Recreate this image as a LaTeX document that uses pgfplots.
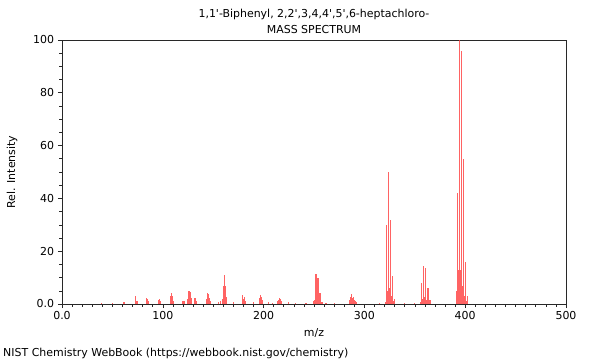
\documentclass[border=0pt]{standalone}
\usepackage{pgfplots}
\pgfplotsset{compat=1.18}
\usepackage{fontspec}
\setmainfont{DejaVu Sans}[Ligatures=TeXOff]
\definecolor{pk}{RGB}{255,60,60}
\definecolor{ax}{RGB}{40,40,40}
\begin{document}
\fontsize{11}{13}\selectfont
\begin{tikzpicture}
\begin{axis}[
  at={(0,0)}, anchor=south west,
  scale only axis, width=504bp, height=264bp,
  xmin=0, xmax=500, ymin=0, ymax=100,
  axis line style={ax, line width=0.8pt},
  tick style={ax, line width=0.6pt},
  tick pos=left, tick align=outside,
  major tick length=4bp, minor tick length=2.5bp,
  xtick={0,100,200,300,400,500},
  xticklabels={0.0,100,200,300,400,500},
  minor x tick num=9,
  ytick={0,20,40,60,80,100},
  yticklabels={0.0,20,40,60,80,100},
  minor y tick num=3,
  ticklabel style={font=\fontsize{11}{13}\selectfont},
  /pgf/number format/assume math mode=true,
  clip=false,
]
\addplot[ycomb, draw=pk, opacity=0.8, line width=1.2bp, mark=none] coordinates {
(39,0.4) (50,0.5) (61,0.9) (62,0.8) (73,3.2) (74,1.0) (75,1.2) (84,2.4) (85,1.8) (86,1.0)
(96,1.6) (97,2.0) (98,1.0) (108,3.0) (109,4.0) (110,3.0) (111,1.2)
(120,1.2) (121,1.0) (125,2.0) (126,5.0) (127,4.5) (128,2.4) (132,2.4) (133,1.2)
(143,2.0) (144,4.0) (145,3.6) (146,2.2) (147,1.0) (155,0.8) (157,1.0)
(159,2.0) (160,7.0) (161,11.0) (162,7.0) (163,2.5)
(170,0.8) (179,3.4) (180,2.0) (181,2.6) (182,1.2) (190,0.6)
(196,2.4) (197,3.5) (198,2.6) (199,1.5) (205,0.6) (209,0.5)
(214,1.2) (215,1.6) (216,2.4) (217,1.8) (218,1.2) (225,0.6) (232,0.5) (242,0.5)
(250,1.0) (251,1.6) (252,11.5) (253,1.5) (254,10.0) (255,1.0) (256,4.0) (258,0.8) (262,0.5) (270,0.5)
(285,1.6) (286,2.6) (287,3.8) (288,2.4) (289,2.8) (290,1.6) (291,1.2) (292,0.6)
(315,0.5) (321,0.8) (322,30.0) (323,5.0) (324,50.0) (325,6.0) (326,32.0) (327,3.0) (328,10.5) (329,1.0) (330,2.0)
(340,0.5) (350,0.5)
(356,0.8) (357,8.0) (358,2.0) (359,14.5) (360,2.5) (361,13.5) (362,1.5) (363,6.0) (364,0.6) (365,1.5)
(391,5.0) (392,42.0) (393,13.0) (394,100.0) (395,13.0) (396,96.0) (397,7.0) (398,55.0) (399,3.0) (400,16.0) (401,1.0) (402,3.0)
};
\end{axis}
\node[anchor=center] at (252bp,290bp) {1,1'-Biphenyl, 2,2',3,4,4',5',6-heptachloro-};
\node[anchor=center] at (252bp,274bp) {MASS SPECTRUM};
\node[rotate=90, anchor=center] at (-50bp,132bp) {Rel. Intensity};
\node[anchor=center] at (252bp,-29bp) {m/z};
\node[anchor=west, inner sep=0pt] at (-59bp,-49bp) {NIST Chemistry WebBook (https://webbook.nist.gov/chemistry)};
\path[use as bounding box] (-62bp,-56bp) rectangle (538bp,304bp);
\end{tikzpicture}
\end{document}
